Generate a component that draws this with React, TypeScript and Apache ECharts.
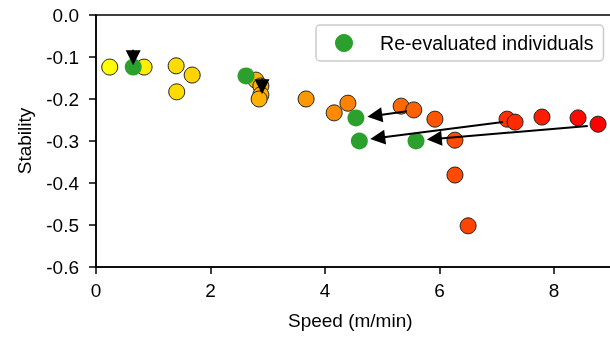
import React, { useEffect, useRef } from "react";
import * as echarts from "echarts";

// Individuals (speed in m/min, stability)
const speed = [0.24, 0.84, 1.4, 1.68, 1.41, 2.79, 2.88, 2.88, 2.85, 3.67, 4.16, 4.4, 5.33, 5.55, 5.92, 6.27, 6.27, 6.5, 7.18, 7.32, 7.79, 8.42, 8.77];
const stability = [-0.124, -0.124, -0.121, -0.143, -0.183, -0.155, -0.169, -0.19, -0.2, -0.2, -0.233, -0.21, -0.217, -0.226, -0.248, -0.298, -0.381, -0.502, -0.248, -0.255, -0.243, -0.245, -0.26];

// Re-evaluated individuals
const reSpeed = [0.65, 2.62, 4.54, 4.6, 5.59];
const reStability = [-0.124, -0.145, -0.245, -0.3, -0.3];

// Arrows (from -> to)
const arrowFromX = [0.65, 2.9, 5.43, 7.11, 8.59];
const arrowFromY = [-0.083, -0.152, -0.229, -0.255, -0.264];
const arrowToX = [0.65, 2.9, 4.87, 4.92, 5.91];
const arrowToY = [-0.102, -0.171, -0.24, -0.293, -0.295];

const yTicks = [0, -0.1, -0.2, -0.3, -0.4, -0.5, -0.6];
const xMin = 0;
const xMax = 10;
const xStep = 2;

const FONT = "Liberation Sans, Arial, sans-serif";
const FS = 19;

export default function App() {
  const ref = useRef<HTMLDivElement>(null);
  useEffect(() => {
    if (!ref.current) return;
    const chart = echarts.init(ref.current, undefined, { renderer: "svg" });
    const minS = Math.min(...speed);
    const maxS = Math.max(...speed);
    chart.setOption({
      animation: false,
      textStyle: { fontFamily: FONT },
      grid: {
        left: 96,
        top: 15,
        width: 572.5,
        height: 252,
        show: true,
        borderColor: "#000",
        borderWidth: 1.5,
        containLabel: false,
        outerBoundsMode: "none",
      },
      xAxis: {
        type: "value",
        min: xMin,
        max: xMax,
        interval: xStep,
        name: "Speed (m/min)",
        nameLocation: "middle",
        nameGap: 44,
        nameTextStyle: { fontSize: FS, color: "#000", fontFamily: FONT, padding: [0, 64, 0, 0] },
        axisLine: { show: true, onZero: false, lineStyle: { color: "#000", width: 1.5 } },
        axisTick: { show: true, length: 7, lineStyle: { color: "#000", width: 1.5 } },
        axisLabel: { fontSize: FS, color: "#000", margin: 14, fontFamily: FONT, showMaxLabel: false },
        splitLine: { show: false },
      },
      yAxis: {
        type: "value",
        min: yTicks[yTicks.length - 1],
        max: yTicks[0],
        interval: 0.1,
        name: "Stability",
        nameLocation: "middle",
        nameGap: 62,
        nameTextStyle: { fontSize: FS, color: "#000", fontFamily: FONT },
        axisLine: { show: true, onZero: false, lineStyle: { color: "#000", width: 1.5 } },
        axisTick: { show: true, length: 7, lineStyle: { color: "#000", width: 1.5 } },
        axisLabel: {
          fontSize: FS,
          color: "#000",
          margin: 17,
          fontFamily: FONT,
          formatter: (v: number) => (Math.abs(v) < 1e-9 ? "0.0" : v.toFixed(1)),
        },
        splitLine: { show: false },
      },
      visualMap: {
        show: false,
        type: "continuous",
        seriesIndex: 0,
        dimension: 0,
        min: minS,
        max: maxS,
        inRange: { color: ["#ffff00", "#ff0000"] },
      },
      legend: {
        data: ["Re-evaluated individuals"],
        left: 316,
        top: 25,
        orient: "horizontal",
        itemWidth: 18,
        itemHeight: 18,
        padding: [8, 10, 8, 19],
        borderColor: "#cccccc",
        borderWidth: 1.5,
        borderRadius: 4,
        backgroundColor: "rgba(255,255,255,0.8)",
        textStyle: { fontSize: 19.6, color: "#000", fontFamily: FONT, padding: [0, 0, 0, 22] },
      },
      series: [
        {
          type: "scatter",
          name: "Individuals",
          data: speed.map((s, i) => [s, stability[i]]),
          symbol: "circle",
          symbolSize: 16,
          itemStyle: { borderColor: "#222", borderWidth: 1, opacity: 1 },
          z: 2,
        },
        {
          type: "scatter",
          name: "Re-evaluated individuals",
          data: reSpeed.map((s, i) => [s, reStability[i]]),
          symbol: "circle",
          symbolSize: 17,
          itemStyle: { color: "#2ca02c", opacity: 1 },
          z: 3,
        },
        {
          type: "lines",
          coordinateSystem: "cartesian2d",
          data: arrowFromX.map((x, i) => ({
            coords: [
              [x, arrowFromY[i]],
              [arrowToX[i], arrowToY[i]],
            ],
          })),
          symbol: ["none", "triangle"],
          symbolSize: 15,
          lineStyle: { color: "#000", width: 2, opacity: 1 },
          z: 4,
        },
      ],
    });
    return () => chart.dispose();
  }, []);
  return (
    <div
      ref={ref}
      style={{ position: "fixed", left: 0, top: 0, width: 610, height: 337 }}
    />
  );
}
